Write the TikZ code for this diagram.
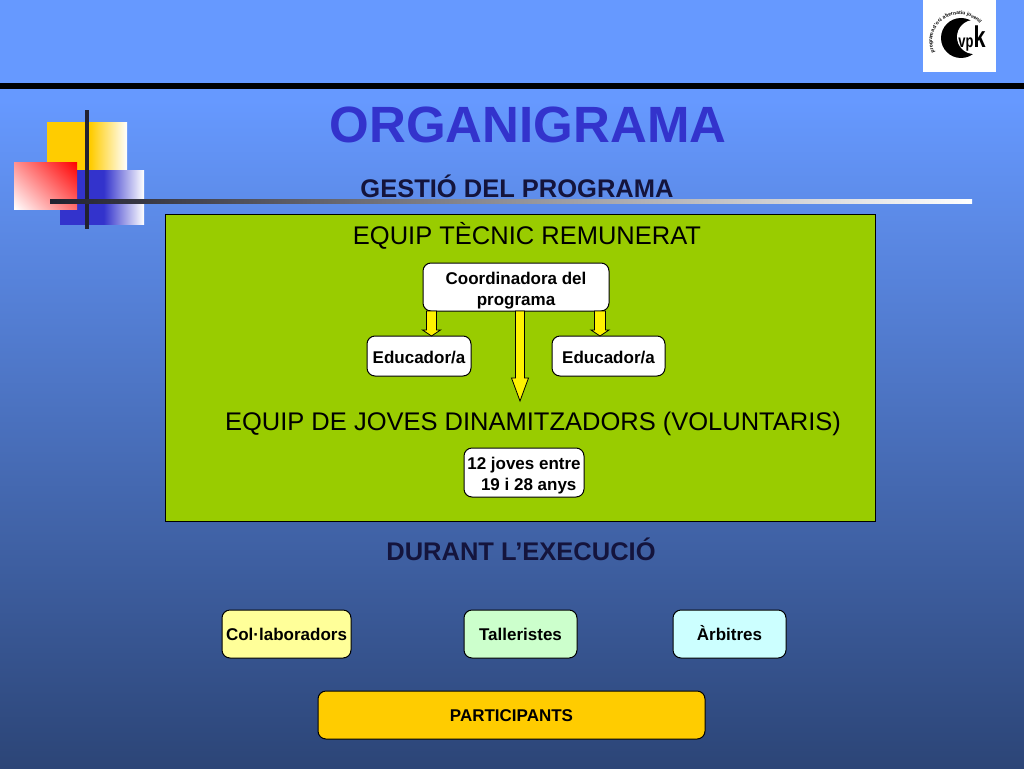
\documentclass[tikz,border=0pt]{standalone}
\usepackage{fontspec}
\setmainfont{Liberation Sans}
\usetikzlibrary{calc,decorations.text}
\definecolor{bgtop}{HTML}{6699FF}
\definecolor{bgbot}{HTML}{2C4577}
\definecolor{titleblue}{HTML}{3333CC}
\definecolor{heading}{HTML}{14143C}
\definecolor{panel}{HTML}{99CC00}
\definecolor{barblack}{HTML}{222230}
\definecolor{gold}{HTML}{FFCC00}
\definecolor{boxyellow}{HTML}{FFFF99}
\definecolor{boxgreen}{HTML}{CCFFCC}
\definecolor{boxcyan}{HTML}{CCFFFF}
% the visible part of a declared shading runs from 25bp to 75bp
\pgfdeclareverticalshading{slidebg}{100bp}{color(0bp)=(bgbot); color(25bp)=(bgbot); color(68.5bp)=(bgtop); color(100bp)=(bgtop)}
\pgfdeclarehorizontalshading{goldfade}{100bp}{color(0bp)=(gold); color(52bp)=(gold); color(75bp)=(white); color(100bp)=(white)}
\pgfdeclarehorizontalshading{bluefade}{100bp}{color(0bp)=(titleblue); color(51bp)=(titleblue); color(75bp)=(white); color(100bp)=(white)}
\pgfdeclareverticalshading{redfade}{100bp}{color(0bp)=(white); color(14.6bp)=(white); color(85.4bp)=(red); color(100bp)=(red)}
\newcommand{\fs}[1]{\fontsize{#1}{#1}\selectfont}
\newcommand{\lbl}[2]{\raisebox{#1}[0pt][0pt]{#2}}
\newcommand{\blockarrow}[5]{%
  \draw[arrowline] let \p1=(#1),\p2=(#2),\n1={#3pt},\n2={#4pt},\n3={#5pt} in
    (\x1-\n1,\y1) -- (\x1-\n1,\y2+\n3) -- (\x1-\n2,\y2+\n3) -- (\x1,\y2) --
    (\x1+\n2,\y2+\n3) -- (\x1+\n1,\y2+\n3) -- (\x1+\n1,\y1) -- cycle;}
\tikzset{
  x=1pt,y=-1pt,
  box/.style={draw=black,line width=1pt,rounded corners=8pt,inner sep=0pt,align=center,
    font=\fs{17}\bfseries,text=black,anchor=center},
  head/.style={inner sep=0pt,anchor=center,text=heading,font=\fs{25.5}\bfseries},
  sub/.style={inner sep=0pt,anchor=center,text=black,font=\fs{25.5}},
  arrowline/.style={draw=black,line width=0.8pt,fill=yellow,line join=miter},
}
\begin{document}
\begin{tikzpicture}
\useasboundingbox (0,0) rectangle (1024,768);
\fill[shading=slidebg] (0,0) rectangle (1024,768);
% top rule
\fill[black] (0,83) rectangle (1024,89);
% logo
\fill[white] (923,0) rectangle (996,72);
\fill[black] (961,38) circle (20);
\fill[white] (974,37) circle (17);
\node[inner sep=0pt,anchor=base,text=black,font=\fs{18}\bfseries,xscale=0.72] (vpk) at (972,48) {vp\fs{30}k};
\path[postaction={decorate,decoration={text along path,text align=center,
  text={|\fs{5}\bfseries|programa d'oci alternatiu juvenil}}}]
  (937,57) arc[start angle=145,end angle=330,radius=27];
% decorative squares
\fill[shading=goldfade] (47,122) rectangle (127,170);
\fill[shading=bluefade] (60,170) rectangle (144,224);
\fill[shading=redfade,shading angle=-45] (14,162) rectangle (77,209);
\fill[barblack] (85,110) rectangle (89,229);
\shade[left color=barblack,right color=white] (50,199) rectangle (972,203);
% texts
\node[inner sep=0pt,text=titleblue,font=\fs{51}\bfseries] (title) at (528,125) {ORGANIGRAMA};
\node[head] (gestio) at (517,186) {GESTIÓ DEL PROGRAMA};
% panel
\node[draw=black,line width=1pt,fill=panel,minimum width=710pt,minimum height=307pt,inner sep=0pt] (panel) at (520,367.5) {};
\node[sub] (tecnic) at (527,236) {EQUIP TÈCNIC REMUNERAT};
\node[sub] (joves) at (533,424) {EQUIP DE JOVES DINAMITZADORS (VOLUNTARIS)};
% boxes
\node[box,fill=white,minimum width=186pt,minimum height=48pt] (coord) at (516,287) {\lbl{-7.5pt}{Coordinadora del}\\[4pt]\lbl{-7.5pt}{programa}};
\node[box,fill=white,minimum width=104pt,minimum height=40pt] (edua) at (419,356) {\lbl{-7pt}{Educador/a}};
\node[box,fill=white,minimum width=113pt,minimum height=40pt] (edub) at (608.5,356) {\lbl{-7pt}{Educador/a}};
\node[box,fill=white,minimum width=120pt,minimum height=49pt] (dotze) at (524,472.5) {\lbl{-7pt}{12 joves entre}\\[4pt]\lbl{-7pt}{\ \ 19 i 28 anys}};
\coordinate (ca) at (431.5,311);
\coordinate (cb) at (600,311);
\coordinate (cc) at (520,311);
\coordinate (da) at (431.5,336);
\coordinate (db) at (600,336);
\coordinate (dc) at (520,401);
\blockarrow{ca}{da}{5}{9}{6}
\blockarrow{cb}{db}{5.5}{9}{6}
\blockarrow{cc}{dc}{4.5}{8.5}{23}
\node[head] (durant) at (521,549) {DURANT L’EXECUCIÓ};
\node[box,fill=boxyellow,minimum width=129pt,minimum height=48pt] (col) at (286.5,634) {Col·laboradors};
\node[box,fill=boxgreen,minimum width=113pt,minimum height=48pt] (tall) at (520.5,634) {Talleristes};
\node[box,fill=boxcyan,minimum width=113pt,minimum height=48pt] (arb) at (729.5,634) {\lbl{-6pt}{Àrbitres}};
\node[box,fill=gold,minimum width=387pt,minimum height=48pt] (part) at (511.5,715) {\lbl{-6pt}{PARTICIPANTS}};
\end{tikzpicture}
\end{document}
